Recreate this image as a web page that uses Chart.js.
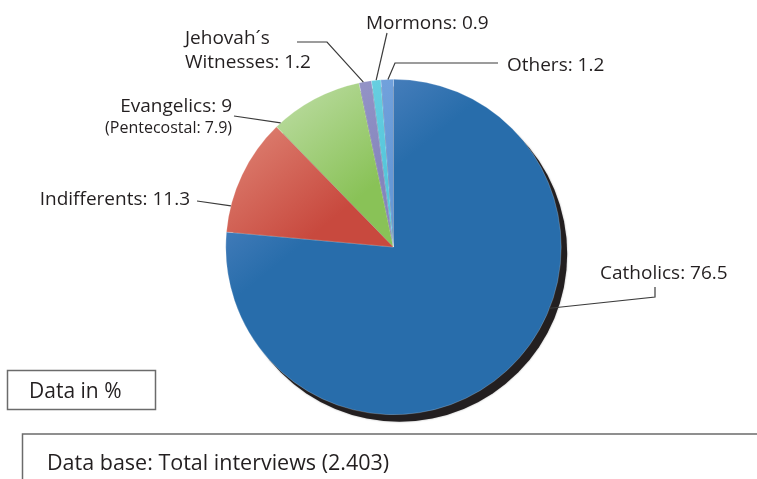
<!DOCTYPE html>
<html>
<head>
<meta charset="utf-8">
<title>Religion pie</title>
<script src="https://cdn.jsdelivr.net/npm/chart.js@4.4.0/dist/chart.umd.min.js"></script>
<style>
  html, body { margin: 0; padding: 0; background: #fff; }
  #wrap { width: 757px; height: 479px; position: relative; }
</style>
</head>
<body>
<div id="wrap"><canvas id="pie" width="757" height="479"></canvas></div>
<script>
/* ---- DATA ---- */
const categories = ['Catholics', 'Indifferents', 'Evangelics', 'Jehovah´s Witnesses', 'Mormons', 'Others'];
const shares = [76.5, 11.3, 9, 1.2, 0.9, 1.2];
const pentecostal = 7.9;
const notes = ['Data in %', 'Data base: Total interviews (2.403)'];

/* ---- STYLE ---- */
const lightColors = ['#5e8bc8', '#de8273', '#bcdca2', '#9a9acb', '#72d3e3', '#7aa8e0'];
const darkColors  = ['#286dab', '#c8493e', '#89c257', '#8585bd', '#55c6db', '#6698d6'];
const FONT = '"Open Sans", Lato, sans-serif';
const INK = '#231f20';

// label placement: text lines, leader path (text side) and where on the slice the line lands (0..1 of its span)
const labelLayout = [
  { lines: [[categories[0] + ': ' + shares[0], 19]], x: 600, y: 279, align: 'left',
    path: [[655, 287], [655, 297]], at: 0.405 },
  { lines: [[categories[1] + ': ' + shares[1], 19]], x: 190, y: 205, align: 'right',
    path: [[197, 201]], at: 0.224 },
  { lines: [[categories[2] + ': ' + shares[2], 19], ['(Pentecostal: ' + pentecostal + ')', 16]], x: 232, y: 112, align: 'right',
    path: [[234, 116]], at: 0.06 },
  { lines: [['Jehovah´s', 19], ['Witnesses: ' + shares[3], 19]], x: 185, y: 44, align: 'left',
    path: [[297, 42], [327, 42]], at: 0.35 },
  { lines: [[categories[4] + ': ' + shares[4], 19]], x: 366, y: 29, align: 'left',
    path: [[387, 33]], at: 0.5 },
  { lines: [[categories[5] + ': ' + shares[5], 19]], x: 507, y: 71, align: 'left',
    path: [[498, 63], [395, 63]], at: 0.56 }
];

function sliceFill(context) {
  const chart = context.chart;
  const area = chart.chartArea;
  const i = context.dataIndex;
  if (!area) return darkColors[i];
  const cx = (area.left + area.right) / 2, cy = (area.top + area.bottom) / 2;
  const r = Math.min(area.right - area.left, area.bottom - area.top) / 2;
  const g = chart.ctx.createLinearGradient(cx - r * 0.8, cy - r, cx + r * 0.1, cy + r * 0.1);
  g.addColorStop(0.1, lightColors[i]);
  g.addColorStop(0.65, darkColors[i]);
  g.addColorStop(1, darkColors[i]);
  return g;
}

/* ---- PLUGINS ---- */
const shadowPlugin = {
  id: 'dropShadow',
  beforeDatasetsDraw(chart) {
    const arc = chart.getDatasetMeta(0).data[0];
    if (!arc) return;
    const { x, y, outerRadius } = arc.getProps(['x', 'y', 'outerRadius'], true);
    const ctx = chart.ctx;
    ctx.save();
    ctx.fillStyle = INK;
    ctx.shadowColor = 'rgba(0,0,0,0.35)';
    ctx.shadowBlur = 2;
    ctx.beginPath();
    ctx.arc(x + 6, y + 7, outerRadius, 0, Math.PI * 2);
    ctx.fill();
    ctx.restore();
  }
};

const labelPlugin = {
  id: 'leaderLabels',
  afterDatasetsDraw(chart) {
    const ctx = chart.ctx;
    const arcs = chart.getDatasetMeta(0).data;
    ctx.save();
    labelLayout.forEach((lab, i) => {
      const a = arcs[i].getProps(['x', 'y', 'startAngle', 'endAngle', 'outerRadius'], true);
      const ang = a.startAngle + lab.at * (a.endAngle - a.startAngle);
      const ex = a.x + a.outerRadius * Math.cos(ang);
      const ey = a.y + a.outerRadius * Math.sin(ang);

      // leader line
      ctx.strokeStyle = '#3b3b3b';
      ctx.lineWidth = 1.2;
      ctx.beginPath();
      ctx.moveTo(lab.path[0][0], lab.path[0][1]);
      lab.path.slice(1).forEach(p => ctx.lineTo(p[0], p[1]));
      ctx.lineTo(ex, ey);
      ctx.stroke();

      // text
      ctx.fillStyle = INK;
      ctx.textAlign = lab.align;
      ctx.textBaseline = 'alphabetic';
      let y = lab.y;
      lab.lines.forEach((ln, k) => {
        if (k > 0) y += (ln[1] < 19 ? 21 : 24);
        ctx.font = ln[1] + 'px ' + FONT;
        ctx.fillText(ln[0], lab.x, y);
      });
    });
    ctx.restore();
  },
  afterDraw(chart) {
    const ctx = chart.ctx;
    ctx.save();
    ctx.strokeStyle = '#6b6b6b';
    ctx.lineWidth = 1.5;
    ctx.strokeRect(7.5, 370.5, 148, 39);
    ctx.strokeRect(22.5, 434, 760, 80);
    ctx.fillStyle = INK;
    ctx.textAlign = 'left';
    ctx.font = '21px ' + FONT;
    ctx.fillText(notes[0], 29, 398);
    ctx.font = '21.5px ' + FONT;
    ctx.fillText(notes[1], 47, 470);
    ctx.restore();
  }
};

/* ---- CHART ---- */
new Chart(document.getElementById('pie'), {
  type: 'pie',
  data: {
    labels: categories,
    datasets: [{
      data: shares,
      backgroundColor: sliceFill,
      borderColor: 'rgba(255,255,255,0.35)',
      borderWidth: 0.6,
      hoverOffset: 0,
      offset: 0
    }]
  },
  options: {
    responsive: false,
    animation: false,
    events: [],
    rotation: 0,
    layout: { padding: { left: 225.5, right: 195.5, top: 78.5, bottom: 63.5 } },
    plugins: {
      legend: { display: false },
      tooltip: { enabled: false },
      title: { display: false }
    }
  },
  plugins: [shadowPlugin, labelPlugin]
});
</script>
</body>
</html>
